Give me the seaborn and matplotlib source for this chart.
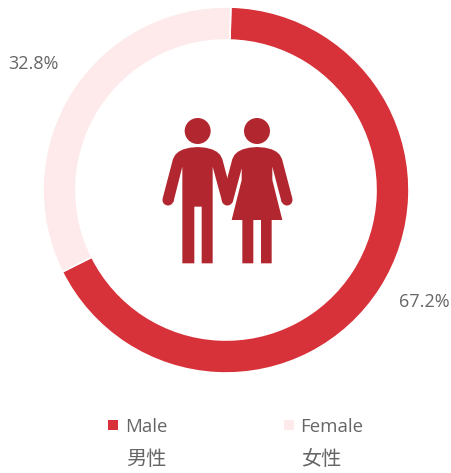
import matplotlib
matplotlib.use('Agg')
import matplotlib.pyplot as plt
import pandas as pd
import seaborn as sns
from matplotlib.patches import Circle, Polygon

# Data
categories = ['Male', 'Female']
categories_cn = ['男性', '女性']
shares = [67.2, 32.8]
colors = ['#D7323A', '#FEEAEA']
icon_color = '#B2272F'
text_color = '#666666'

W, H = 452, 473
sns.set_theme(style='white')
plt.rcParams['font.family'] = ['Open Sans', 'Noto Sans CJK SC', 'DejaVu Sans']

fig = plt.figure(figsize=(W / 100, H / 100), dpi=100)
ax = fig.add_axes([0, 0, 1, 1])


# Pixel y of the picture to axes y
def py(y):
    return H - y


# Donut
ax.pie(shares, colors=sns.color_palette(colors), startangle=88.5, counterclock=False,
       center=(226, py(190)), radius=183, frame=True,
       wedgeprops=dict(width=33, edgecolor='white', linewidth=1.2))


def icon_xy(points):
    return [(150 + x / 3, py(105 + y / 3)) for x, y in points]


man = [(143, 126), (120, 128), (100, 133), (86, 140), (76, 149), (69, 162), (38, 280), (70, 292), (97, 185),
       (97, 475), (133, 475), (133, 305), (155, 305), (155, 475), (188, 475), (188, 185),
       (217, 292), (248, 280), (217, 162), (210, 149), (200, 140), (186, 133), (166, 128)]
woman = [(321, 126), (298, 128), (278, 133), (264, 140), (254, 149), (247, 162), (216, 280), (248, 292),
         (275, 190), (275, 225), (245, 345), (277, 345), (277, 475), (310, 475), (310, 345),
         (333, 345), (333, 475), (365, 475), (365, 345), (397, 345), (367, 225), (367, 185),
         (395, 292), (427, 280), (396, 162), (389, 149), (379, 140), (365, 133), (345, 128)]
for shape in [man, woman]:
    ax.add_patch(Polygon(icon_xy(shape), closed=True, color=icon_color, lw=0))
for hx, hy, r in [(143, 78, 39), (321, 78, 39), (54, 285, 16.5), (232, 285, 16.5), (411, 285, 16.5)]:
    (cx, cy), = icon_xy([(hx, hy)])
    ax.add_patch(Circle((cx, cy), r / 3, color=icon_color, lw=0))

# Percent labels
ax.text(8, py(64), f'{shares[1]}%', fontsize=13, color=text_color, ha='left', va='center')
ax.text(399, py(302), f'{shares[0]}%', fontsize=13, color=text_color, ha='left', va='center')

# Legend
legend = pd.DataFrame({'x': [113, 289], 'y': [py(425), py(425)], 'name': categories})
sns.scatterplot(data=legend, x='x', y='y', hue='name', palette=colors, marker='s', s=50,
                linewidth=0, legend=False, ax=ax)
for x, name, name_cn in zip([125, 300], categories, categories_cn):
    ax.text(x, py(427), name, fontsize=13.4, color=text_color, ha='left', va='center')
    ax.text(x + 1, py(460), name_cn, fontsize=14.5, color=text_color, ha='left', va='center',
            family=['Noto Sans CJK SC', 'DejaVu Sans'], fontweight='light')

ax.set_xlim(0, W)
ax.set_ylim(0, H)
ax.set_xlabel('')
ax.set_ylabel('')
ax.axis('off')

fig.savefig('out.png', dpi=100)
